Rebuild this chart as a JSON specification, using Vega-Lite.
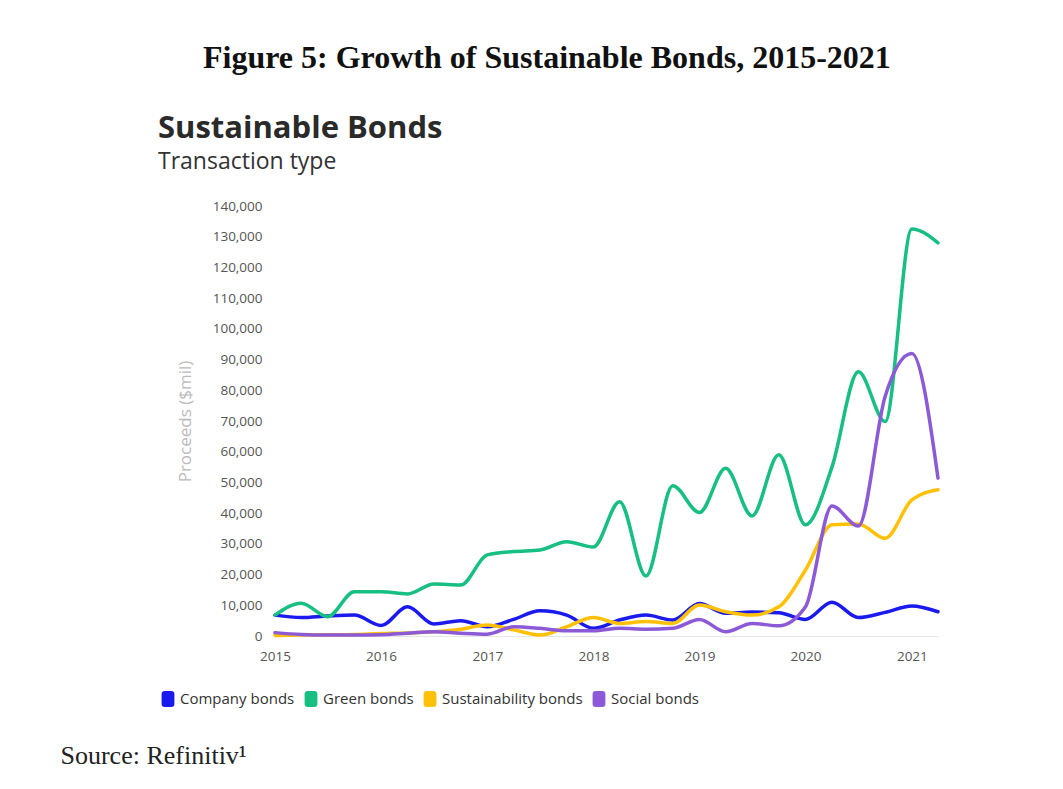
{
  "$schema": "https://vega.github.io/schema/vega-lite/v6.json",
  "background": "white",
  "padding": {"left": 60, "top": 42, "right": 0, "bottom": 0},
  "title": {
    "text": "Figure 5: Growth of Sustainable Bonds, 2015-2021",
    "font": "Liberation Serif",
    "fontSize": 32,
    "fontWeight": "bold",
    "color": "#111111",
    "anchor": "start",
    "frame": "bounds",
    "dx": 143,
    "offset": 38
  },
  "config": {"view": {"stroke": null}},
  "vconcat": [
    {
      "width": 663,
      "height": 430,
      "title": {
        "text": "Sustainable Bonds",
        "subtitle": "Transaction type",
        "anchor": "start",
        "frame": "group",
        "dx": -117,
        "font": "Open Sans",
        "fontSize": 31,
        "fontWeight": "bold",
        "color": "#2a2a2a",
        "subtitleFont": "Open Sans",
        "subtitleFontSize": 23,
        "subtitleColor": "#333333",
        "subtitlePadding": 6,
        "offset": 24
      },
      "data": {
        "values": [
          {"date": "2015-01-01", "series": "Company bonds", "value": 6800},
          {"date": "2015-04-01", "series": "Company bonds", "value": 6000},
          {"date": "2015-07-01", "series": "Company bonds", "value": 6500},
          {"date": "2015-10-01", "series": "Company bonds", "value": 6800},
          {"date": "2016-01-01", "series": "Company bonds", "value": 3400},
          {"date": "2016-04-01", "series": "Company bonds", "value": 9500},
          {"date": "2016-07-01", "series": "Company bonds", "value": 3900},
          {"date": "2016-10-01", "series": "Company bonds", "value": 5000},
          {"date": "2017-01-01", "series": "Company bonds", "value": 3000},
          {"date": "2017-04-01", "series": "Company bonds", "value": 5400},
          {"date": "2017-07-01", "series": "Company bonds", "value": 8200},
          {"date": "2017-10-01", "series": "Company bonds", "value": 6800},
          {"date": "2018-01-01", "series": "Company bonds", "value": 2500},
          {"date": "2018-04-01", "series": "Company bonds", "value": 5200},
          {"date": "2018-07-01", "series": "Company bonds", "value": 6800},
          {"date": "2018-10-01", "series": "Company bonds", "value": 5200},
          {"date": "2019-01-01", "series": "Company bonds", "value": 10600},
          {"date": "2019-04-01", "series": "Company bonds", "value": 7400},
          {"date": "2019-07-01", "series": "Company bonds", "value": 7800},
          {"date": "2019-10-01", "series": "Company bonds", "value": 7600},
          {"date": "2020-01-01", "series": "Company bonds", "value": 5400},
          {"date": "2020-04-01", "series": "Company bonds", "value": 11000},
          {"date": "2020-07-01", "series": "Company bonds", "value": 6000},
          {"date": "2020-10-01", "series": "Company bonds", "value": 7700},
          {"date": "2021-01-01", "series": "Company bonds", "value": 9800},
          {"date": "2021-04-01", "series": "Company bonds", "value": 7900},
          {"date": "2015-01-01", "series": "Green bonds", "value": 6800},
          {"date": "2015-04-01", "series": "Green bonds", "value": 10700},
          {"date": "2015-07-01", "series": "Green bonds", "value": 6300},
          {"date": "2015-10-01", "series": "Green bonds", "value": 14400},
          {"date": "2016-01-01", "series": "Green bonds", "value": 14400},
          {"date": "2016-04-01", "series": "Green bonds", "value": 13700},
          {"date": "2016-07-01", "series": "Green bonds", "value": 16900},
          {"date": "2016-10-01", "series": "Green bonds", "value": 16600},
          {"date": "2017-01-01", "series": "Green bonds", "value": 26400},
          {"date": "2017-04-01", "series": "Green bonds", "value": 27500},
          {"date": "2017-07-01", "series": "Green bonds", "value": 28000},
          {"date": "2017-10-01", "series": "Green bonds", "value": 30700},
          {"date": "2018-01-01", "series": "Green bonds", "value": 29000},
          {"date": "2018-04-01", "series": "Green bonds", "value": 43700},
          {"date": "2018-07-01", "series": "Green bonds", "value": 19500},
          {"date": "2018-10-01", "series": "Green bonds", "value": 48900},
          {"date": "2019-01-01", "series": "Green bonds", "value": 40200},
          {"date": "2019-04-01", "series": "Green bonds", "value": 54600},
          {"date": "2019-07-01", "series": "Green bonds", "value": 39100},
          {"date": "2019-10-01", "series": "Green bonds", "value": 59000},
          {"date": "2020-01-01", "series": "Green bonds", "value": 36200},
          {"date": "2020-04-01", "series": "Green bonds", "value": 55000},
          {"date": "2020-07-01", "series": "Green bonds", "value": 86000},
          {"date": "2020-10-01", "series": "Green bonds", "value": 69800},
          {"date": "2021-01-01", "series": "Green bonds", "value": 132500},
          {"date": "2021-04-01", "series": "Green bonds", "value": 128000},
          {"date": "2015-01-01", "series": "Sustainability bonds", "value": 200},
          {"date": "2015-04-01", "series": "Sustainability bonds", "value": 300},
          {"date": "2015-07-01", "series": "Sustainability bonds", "value": 400},
          {"date": "2015-10-01", "series": "Sustainability bonds", "value": 500},
          {"date": "2016-01-01", "series": "Sustainability bonds", "value": 800},
          {"date": "2016-04-01", "series": "Sustainability bonds", "value": 1000},
          {"date": "2016-07-01", "series": "Sustainability bonds", "value": 1400},
          {"date": "2016-10-01", "series": "Sustainability bonds", "value": 2200},
          {"date": "2017-01-01", "series": "Sustainability bonds", "value": 3600},
          {"date": "2017-04-01", "series": "Sustainability bonds", "value": 2000},
          {"date": "2017-07-01", "series": "Sustainability bonds", "value": 300},
          {"date": "2017-10-01", "series": "Sustainability bonds", "value": 3000},
          {"date": "2018-01-01", "series": "Sustainability bonds", "value": 6000},
          {"date": "2018-04-01", "series": "Sustainability bonds", "value": 4100},
          {"date": "2018-07-01", "series": "Sustainability bonds", "value": 4700},
          {"date": "2018-10-01", "series": "Sustainability bonds", "value": 4100},
          {"date": "2019-01-01", "series": "Sustainability bonds", "value": 10100},
          {"date": "2019-04-01", "series": "Sustainability bonds", "value": 7900},
          {"date": "2019-07-01", "series": "Sustainability bonds", "value": 6800},
          {"date": "2019-10-01", "series": "Sustainability bonds", "value": 9500},
          {"date": "2020-01-01", "series": "Sustainability bonds", "value": 21500},
          {"date": "2020-04-01", "series": "Sustainability bonds", "value": 36200},
          {"date": "2020-07-01", "series": "Sustainability bonds", "value": 36500},
          {"date": "2020-10-01", "series": "Sustainability bonds", "value": 31800},
          {"date": "2021-01-01", "series": "Sustainability bonds", "value": 44300},
          {"date": "2021-04-01", "series": "Sustainability bonds", "value": 47600},
          {"date": "2015-01-01", "series": "Social bonds", "value": 1100},
          {"date": "2015-04-01", "series": "Social bonds", "value": 500},
          {"date": "2015-07-01", "series": "Social bonds", "value": 300},
          {"date": "2015-10-01", "series": "Social bonds", "value": 300},
          {"date": "2016-01-01", "series": "Social bonds", "value": 400},
          {"date": "2016-04-01", "series": "Social bonds", "value": 900},
          {"date": "2016-07-01", "series": "Social bonds", "value": 1400},
          {"date": "2016-10-01", "series": "Social bonds", "value": 900},
          {"date": "2017-01-01", "series": "Social bonds", "value": 600},
          {"date": "2017-04-01", "series": "Social bonds", "value": 3000},
          {"date": "2017-07-01", "series": "Social bonds", "value": 2500},
          {"date": "2017-10-01", "series": "Social bonds", "value": 1700},
          {"date": "2018-01-01", "series": "Social bonds", "value": 1700},
          {"date": "2018-04-01", "series": "Social bonds", "value": 2500},
          {"date": "2018-07-01", "series": "Social bonds", "value": 2200},
          {"date": "2018-10-01", "series": "Social bonds", "value": 2500},
          {"date": "2019-01-01", "series": "Social bonds", "value": 5400},
          {"date": "2019-04-01", "series": "Social bonds", "value": 1400},
          {"date": "2019-07-01", "series": "Social bonds", "value": 4100},
          {"date": "2019-10-01", "series": "Social bonds", "value": 3300},
          {"date": "2020-01-01", "series": "Social bonds", "value": 9500},
          {"date": "2020-04-01", "series": "Social bonds", "value": 42300},
          {"date": "2020-07-01", "series": "Social bonds", "value": 35800},
          {"date": "2020-10-01", "series": "Social bonds", "value": 78000},
          {"date": "2021-01-01", "series": "Social bonds", "value": 92000},
          {"date": "2021-04-01", "series": "Social bonds", "value": 51400}
        ]
      },
      "mark": {"type": "line", "interpolate": "monotone", "strokeWidth": 3.5, "strokeCap": "round", "strokeJoin": "round"},
      "encoding": {
        "x": {
          "field": "date",
          "type": "temporal",
          "scale": {"type": "utc", "domain": [{"year": 2015, "month": 1, "date": 1, "utc": true}, {"year": 2021, "month": 4, "date": 1, "utc": true}], "nice": false},
          "axis": {
            "values": [
              {"year": 2015, "month": 1, "date": 1, "utc": true},
              {"year": 2016, "month": 1, "date": 1, "utc": true},
              {"year": 2017, "month": 1, "date": 1, "utc": true},
              {"year": 2018, "month": 1, "date": 1, "utc": true},
              {"year": 2019, "month": 1, "date": 1, "utc": true},
              {"year": 2020, "month": 1, "date": 1, "utc": true},
              {"year": 2021, "month": 1, "date": 1, "utc": true}
            ],
            "format": "%Y",
            "labelFont": "Open Sans",
            "labelFontSize": 13.5,
            "labelColor": "#555555",
            "labelPadding": 13,
            "labelFlush": false,
            "ticks": false,
            "domain": true,
            "domainColor": "#e6e6e6",
            "domainWidth": 1,
            "grid": false,
            "title": "Source: Refinitiv¹",
            "titleFont": "Liberation Serif",
            "titleFontSize": 26,
            "titleFontWeight": "normal",
            "titleColor": "#222222",
            "titleAnchor": "start",
            "titleAlign": "left",
            "titleBaseline": "alphabetic",
            "titleX": -215,
            "titleY": 127
          }
        },
        "y": {
          "field": "value",
          "type": "quantitative",
          "scale": {"domain": [0, 140000], "nice": false},
          "axis": {
            "values": [0, 10000, 20000, 30000, 40000, 50000, 60000, 70000, 80000, 90000, 100000, 110000, 120000, 130000, 140000],
            "format": ",.0f",
            "labelFont": "Open Sans",
            "labelFontSize": 13.5,
            "labelColor": "#555555",
            "labelPadding": 13,
            "ticks": false,
            "domain": false,
            "grid": false,
            "title": "Proceeds ($mil)",
            "titleFont": "Open Sans",
            "titleFontSize": 17,
            "titleFontWeight": "normal",
            "titleColor": "#bbbbbb",
            "titlePadding": 18
          }
        },
        "color": {
          "field": "series",
          "type": "nominal",
          "sort": ["Company bonds", "Green bonds", "Sustainability bonds", "Social bonds"],
          "scale": {
            "domain": ["Company bonds", "Green bonds", "Sustainability bonds", "Social bonds"],
            "range": ["#1a1aee", "#17bf82", "#ffc107", "#8c5ad6"]
          },
          "legend": {
            "orient": "none",
            "legendX": -115,
            "legendY": 485,
            "direction": "horizontal",
            "title": null,
            "symbolType": "M-0.4,-1H0.4Q0.8,-1 0.8,-0.6V0.6Q0.8,1 0.4,1H-0.4Q-0.8,1 -0.8,0.6V-0.6Q-0.8,-1 -0.4,-1Z",
            "symbolSize": 256,
            "symbolStrokeWidth": 0,
            "labelFont": "Open Sans",
            "labelFontSize": 15,
            "labelColor": "#333333",
            "labelOffset": 4,
            "columnPadding": 8,
            "encode": {
              "symbols": {"update": {"fill": {"scale": "color", "field": "value"}, "strokeWidth": {"value": 0}, "opacity": {"value": 1}}}
            }
          }
        }
      }
    }
  ]
}
